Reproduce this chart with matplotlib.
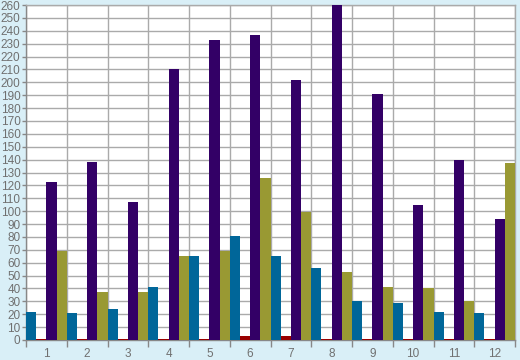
import matplotlib
matplotlib.use("Agg")
import matplotlib.pyplot as plt
import numpy as np

categories = ["1", "2", "3", "4", "5", "6", "7", "8", "9", "10", "11", "12"]
blue = [22, 21, 24, 41, 65, 81, 65, 56, 30, 29, 22, 21]
red = [0.9, 0.9, 0.9, 0.9, 0.9, 3.2, 3.2, 0.9, 0.9, 0.9, 0.9, 0.9]
purple = [123, 138, 107, 210, 233, 237, 202, 260, 191, 105, 140, 94]
olive = [69, 37, 37, 65, 69, 126, 99, 53, 41, 40, 30, 137]

series = [(blue, "#006699"), (red, "#990000"), (purple, "#330066"), (olive, "#999933")]

plt.rcParams["font.family"] = ["Liberation Sans", "DejaVu Sans"]

bg = "#d9eff7"
fig = plt.figure(figsize=(5.2, 3.6), dpi=100, facecolor=bg)
ax = fig.add_axes([26 / 520, 20 / 360, 489 / 520, 335 / 360])
ax.set_facecolor("white")

x = np.arange(len(categories))
w = 0.25
for k, (vals, col) in enumerate(series):
    ax.bar(x + (k - 1.5) * w, vals, width=w, color=col, linewidth=0, zorder=3)

ax.set_xlim(-0.5, len(categories) - 0.5)
ax.set_ylim(0, 260)
ax.set_yticks(np.arange(0, 261, 10))
ax.set_xticks(x)
ax.set_xticklabels(categories)
ax.set_xticks(np.arange(len(categories) + 1) - 0.5, minor=True)

ax.grid(True, which="major", axis="y", color="#aaaaaa", linewidth=1, zorder=0)
ax.grid(True, which="minor", axis="x", color="#aaaaaa", linewidth=1, zorder=0)
ax.grid(False, which="major", axis="x")

ax.tick_params(axis="x", which="major", length=0, pad=6, labelsize=8.5, labelcolor="#707070")
ax.tick_params(axis="x", which="minor", length=5, color="#888888", width=1)
ax.tick_params(axis="y", which="major", length=3, width=1, color="#888888", pad=1,
               labelsize=8.5, labelcolor="#707070")

for s in ["top", "right"]:
    ax.spines[s].set_color("#aaaaaa")
for s in ["left", "bottom"]:
    ax.spines[s].set_color("#888888")
for s in ax.spines.values():
    s.set_linewidth(1)

fig.savefig("out.png", dpi=100, facecolor=bg)
